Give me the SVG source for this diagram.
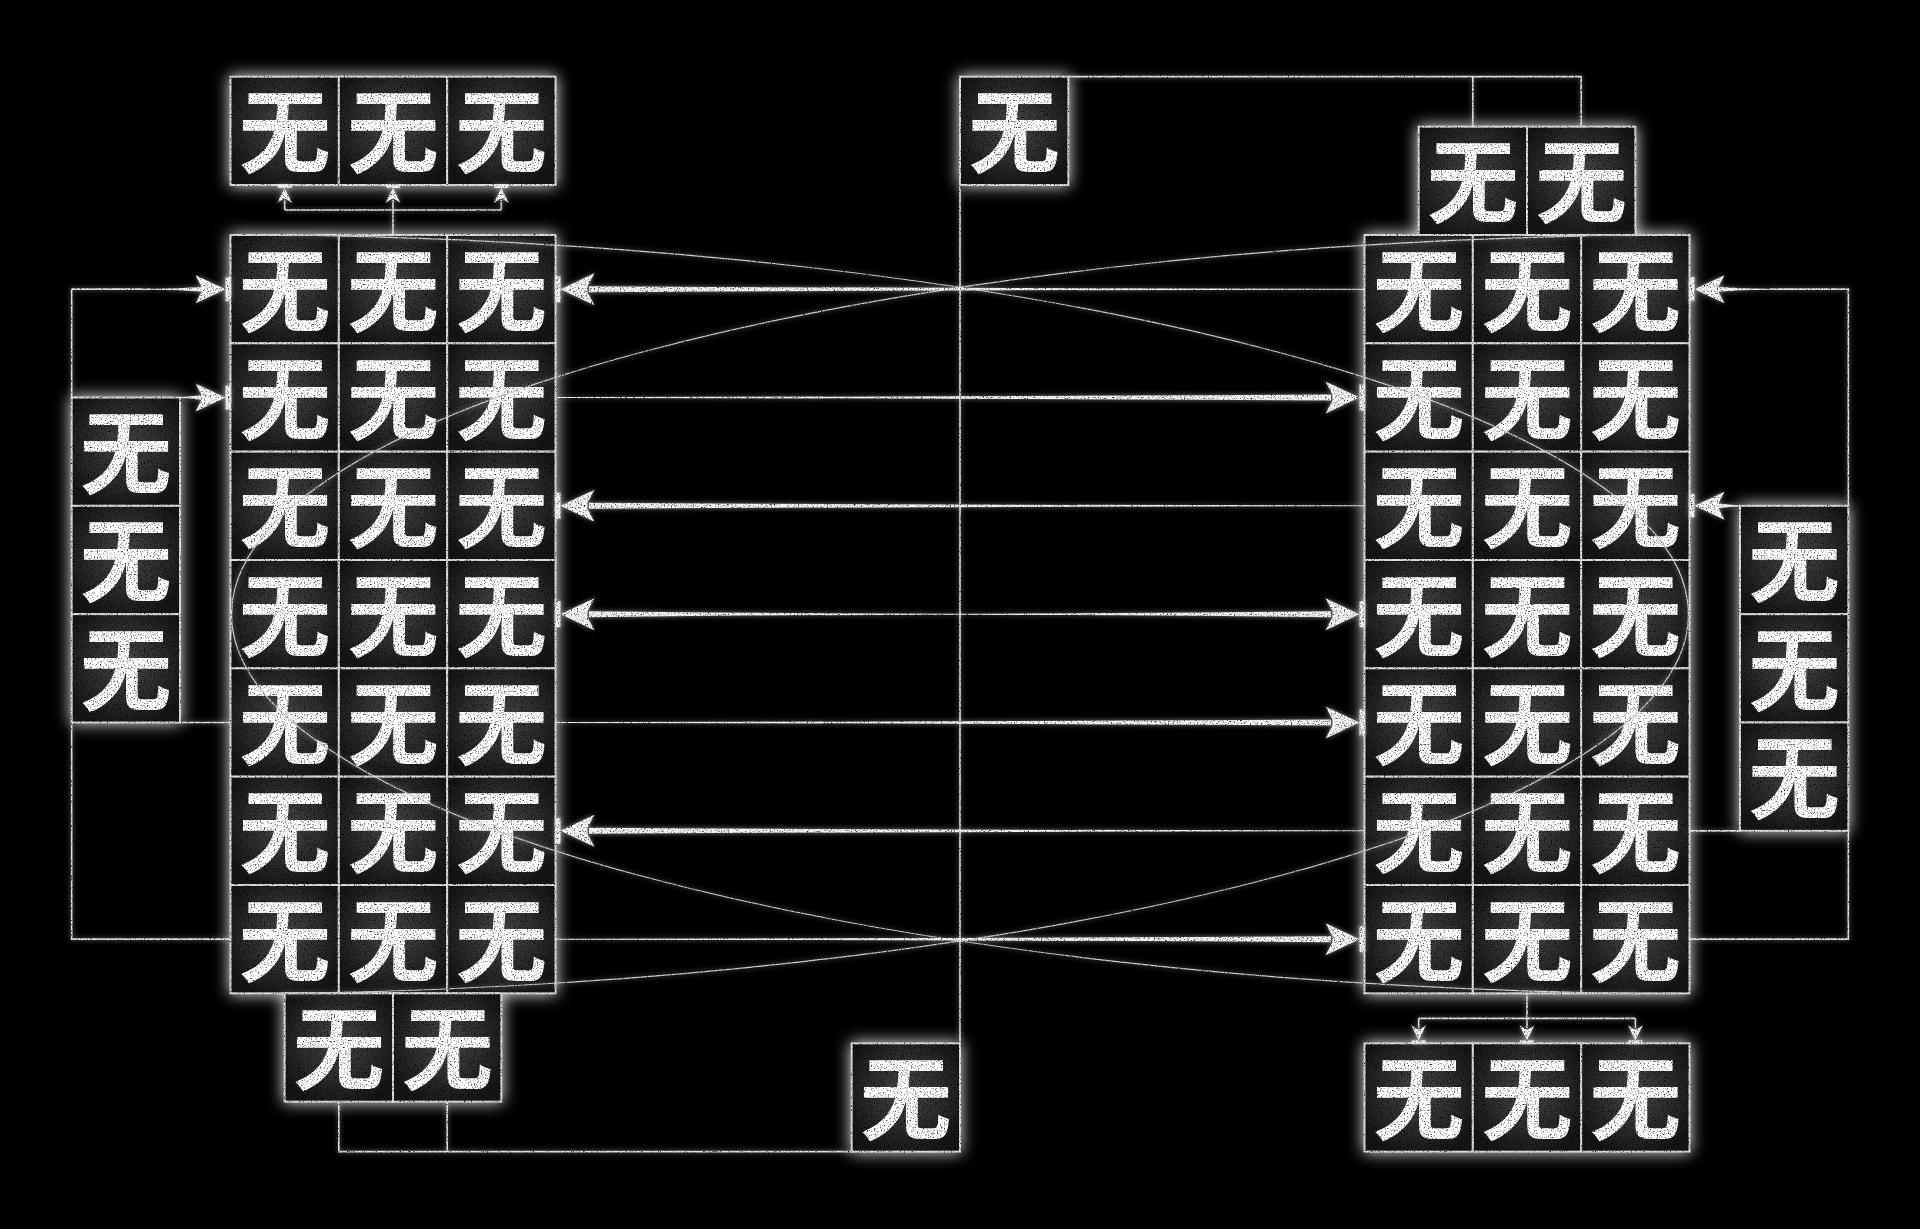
<svg xmlns="http://www.w3.org/2000/svg" width="1920" height="1229" viewBox="0 0 1920 1229">
<defs>
<style>
.c{fill:url(#cg);stroke:#dcdcdc;stroke-width:2}
.t{fill:#ffffff;font-family:"Noto Sans CJK SC","Noto Sans CJK JP",sans-serif;font-weight:700;font-size:92px;text-anchor:middle;dominant-baseline:central}
.ln{fill:none;stroke:#e4e4e4;stroke-width:1.6}
.arc{fill:none;stroke:#d2d2d2;stroke-width:1.2}
.sh{fill:#f2f2f2}
.hd{fill:#f6f6f6}
.bar{fill:#f0f0f0}
</style>
<radialGradient id="cg" cx="50%" cy="45%" r="60%">
<stop offset="0" stop-color="#474747"/>
<stop offset="0.6" stop-color="#2a2a2a"/>
<stop offset="1" stop-color="#151515"/>
</radialGradient>
<filter id="nodefx" x="-5%" y="-5%" width="110%" height="110%" color-interpolation-filters="sRGB">
<feGaussianBlur in="SourceAlpha" stdDeviation="8" result="b"/>
<feFlood flood-color="#ffffff" flood-opacity="0.9"/>
<feComposite in2="b" operator="in" result="glow"/>
<feTurbulence type="fractalNoise" baseFrequency="0.7" numOctaves="2" seed="4" result="n"/>
<feColorMatrix in="n" type="matrix" values="3 0 0 0 -0.38  3 0 0 0 -0.38  3 0 0 0 -0.38  0 0 0 0 1" result="g"/>
<feComposite in="g" in2="SourceGraphic" operator="arithmetic" k1="1" result="tex"/>
<feMerge><feMergeNode in="glow"/><feMergeNode in="tex"/></feMerge>
</filter>
<filter id="linefx" x="-5%" y="-5%" width="110%" height="110%" color-interpolation-filters="sRGB">
<feGaussianBlur in="SourceAlpha" stdDeviation="2.5" result="b"/>
<feFlood flood-color="#ffffff" flood-opacity="0.5"/>
<feComposite in2="b" operator="in" result="glow"/>
<feTurbulence type="fractalNoise" baseFrequency="0.7" numOctaves="2" seed="9" result="n"/>
<feColorMatrix in="n" type="matrix" values="3 0 0 0 -0.4  3 0 0 0 -0.4  3 0 0 0 -0.4  0 0 0 0 1" result="g"/>
<feComposite in="g" in2="SourceGraphic" operator="arithmetic" k1="1" result="tex"/>
<feMerge><feMergeNode in="glow"/><feMergeNode in="tex"/></feMerge>
</filter>
</defs>
<rect width="1920" height="1229" fill="#000"/>

<g id="nodes" filter="url(#nodefx)">
<!-- top-left box -->
<g id="tl0" transform="translate(230.5 76.67)"><rect class="c" width="108.33" height="108.33"/><text class="t" x="54.17" y="49">无</text></g>
<g id="tl1" transform="translate(338.83 76.67)"><rect class="c" width="108.33" height="108.33"/><text class="t" x="54.17" y="49">无</text></g>
<g id="tl2" transform="translate(447.17 76.67)"><rect class="c" width="108.33" height="108.33"/><text class="t" x="54.17" y="49">无</text></g>
<!-- left grid -->
<g id="L00" transform="translate(230.5 235)"><rect class="c" width="108.33" height="108.33"/><text class="t" x="54.17" y="49">无</text></g>
<g id="L01" transform="translate(338.83 235)"><rect class="c" width="108.33" height="108.33"/><text class="t" x="54.17" y="49">无</text></g>
<g id="L02" transform="translate(447.17 235)"><rect class="c" width="108.33" height="108.33"/><text class="t" x="54.17" y="49">无</text></g>
<g id="L10" transform="translate(230.5 343.33)"><rect class="c" width="108.33" height="108.33"/><text class="t" x="54.17" y="49">无</text></g>
<g id="L11" transform="translate(338.83 343.33)"><rect class="c" width="108.33" height="108.33"/><text class="t" x="54.17" y="49">无</text></g>
<g id="L12" transform="translate(447.17 343.33)"><rect class="c" width="108.33" height="108.33"/><text class="t" x="54.17" y="49">无</text></g>
<g id="L20" transform="translate(230.5 451.67)"><rect class="c" width="108.33" height="108.33"/><text class="t" x="54.17" y="49">无</text></g>
<g id="L21" transform="translate(338.83 451.67)"><rect class="c" width="108.33" height="108.33"/><text class="t" x="54.17" y="49">无</text></g>
<g id="L22" transform="translate(447.17 451.67)"><rect class="c" width="108.33" height="108.33"/><text class="t" x="54.17" y="49">无</text></g>
<g id="L30" transform="translate(230.5 560)"><rect class="c" width="108.33" height="108.33"/><text class="t" x="54.17" y="49">无</text></g>
<g id="L31" transform="translate(338.83 560)"><rect class="c" width="108.33" height="108.33"/><text class="t" x="54.17" y="49">无</text></g>
<g id="L32" transform="translate(447.17 560)"><rect class="c" width="108.33" height="108.33"/><text class="t" x="54.17" y="49">无</text></g>
<g id="L40" transform="translate(230.5 668.33)"><rect class="c" width="108.33" height="108.33"/><text class="t" x="54.17" y="49">无</text></g>
<g id="L41" transform="translate(338.83 668.33)"><rect class="c" width="108.33" height="108.33"/><text class="t" x="54.17" y="49">无</text></g>
<g id="L42" transform="translate(447.17 668.33)"><rect class="c" width="108.33" height="108.33"/><text class="t" x="54.17" y="49">无</text></g>
<g id="L50" transform="translate(230.5 776.67)"><rect class="c" width="108.33" height="108.33"/><text class="t" x="54.17" y="49">无</text></g>
<g id="L51" transform="translate(338.83 776.67)"><rect class="c" width="108.33" height="108.33"/><text class="t" x="54.17" y="49">无</text></g>
<g id="L52" transform="translate(447.17 776.67)"><rect class="c" width="108.33" height="108.33"/><text class="t" x="54.17" y="49">无</text></g>
<g id="L60" transform="translate(230.5 885)"><rect class="c" width="108.33" height="108.33"/><text class="t" x="54.17" y="49">无</text></g>
<g id="L61" transform="translate(338.83 885)"><rect class="c" width="108.33" height="108.33"/><text class="t" x="54.17" y="49">无</text></g>
<g id="L62" transform="translate(447.17 885)"><rect class="c" width="108.33" height="108.33"/><text class="t" x="54.17" y="49">无</text></g>
<!-- left column -->
<g id="lc0" transform="translate(71.67 397.5)"><rect class="c" width="108.33" height="108.33"/><text class="t" x="54.17" y="49">无</text></g>
<g id="lc1" transform="translate(71.67 505.83)"><rect class="c" width="108.33" height="108.33"/><text class="t" x="54.17" y="49">无</text></g>
<g id="lc2" transform="translate(71.67 614.17)"><rect class="c" width="108.33" height="108.33"/><text class="t" x="54.17" y="49">无</text></g>
<!-- below left -->
<g id="lb0" transform="translate(284.67 993.33)"><rect class="c" width="108.33" height="108.33"/><text class="t" x="54.17" y="49">无</text></g>
<g id="lb1" transform="translate(393 993.33)"><rect class="c" width="108.33" height="108.33"/><text class="t" x="54.17" y="49">无</text></g>
<!-- singles -->
<g id="ts" transform="translate(960 76.67)"><rect class="c" width="108.33" height="108.33"/><text class="t" x="54.17" y="49">无</text></g>
<g id="bs" transform="translate(851.67 1043.33)"><rect class="c" width="108.33" height="108.33"/><text class="t" x="54.17" y="49">无</text></g>
<!-- right top -->
<g id="rt0" transform="translate(1418.67 126.67)"><rect class="c" width="108.33" height="108.33"/><text class="t" x="54.17" y="49">无</text></g>
<g id="rt1" transform="translate(1527 126.67)"><rect class="c" width="108.33" height="108.33"/><text class="t" x="54.17" y="49">无</text></g>
<!-- right grid -->
<g id="R00" transform="translate(1364.5 235)"><rect class="c" width="108.33" height="108.33"/><text class="t" x="54.17" y="49">无</text></g>
<g id="R01" transform="translate(1472.83 235)"><rect class="c" width="108.33" height="108.33"/><text class="t" x="54.17" y="49">无</text></g>
<g id="R02" transform="translate(1581.17 235)"><rect class="c" width="108.33" height="108.33"/><text class="t" x="54.17" y="49">无</text></g>
<g id="R10" transform="translate(1364.5 343.33)"><rect class="c" width="108.33" height="108.33"/><text class="t" x="54.17" y="49">无</text></g>
<g id="R11" transform="translate(1472.83 343.33)"><rect class="c" width="108.33" height="108.33"/><text class="t" x="54.17" y="49">无</text></g>
<g id="R12" transform="translate(1581.17 343.33)"><rect class="c" width="108.33" height="108.33"/><text class="t" x="54.17" y="49">无</text></g>
<g id="R20" transform="translate(1364.5 451.67)"><rect class="c" width="108.33" height="108.33"/><text class="t" x="54.17" y="49">无</text></g>
<g id="R21" transform="translate(1472.83 451.67)"><rect class="c" width="108.33" height="108.33"/><text class="t" x="54.17" y="49">无</text></g>
<g id="R22" transform="translate(1581.17 451.67)"><rect class="c" width="108.33" height="108.33"/><text class="t" x="54.17" y="49">无</text></g>
<g id="R30" transform="translate(1364.5 560)"><rect class="c" width="108.33" height="108.33"/><text class="t" x="54.17" y="49">无</text></g>
<g id="R31" transform="translate(1472.83 560)"><rect class="c" width="108.33" height="108.33"/><text class="t" x="54.17" y="49">无</text></g>
<g id="R32" transform="translate(1581.17 560)"><rect class="c" width="108.33" height="108.33"/><text class="t" x="54.17" y="49">无</text></g>
<g id="R40" transform="translate(1364.5 668.33)"><rect class="c" width="108.33" height="108.33"/><text class="t" x="54.17" y="49">无</text></g>
<g id="R41" transform="translate(1472.83 668.33)"><rect class="c" width="108.33" height="108.33"/><text class="t" x="54.17" y="49">无</text></g>
<g id="R42" transform="translate(1581.17 668.33)"><rect class="c" width="108.33" height="108.33"/><text class="t" x="54.17" y="49">无</text></g>
<g id="R50" transform="translate(1364.5 776.67)"><rect class="c" width="108.33" height="108.33"/><text class="t" x="54.17" y="49">无</text></g>
<g id="R51" transform="translate(1472.83 776.67)"><rect class="c" width="108.33" height="108.33"/><text class="t" x="54.17" y="49">无</text></g>
<g id="R52" transform="translate(1581.17 776.67)"><rect class="c" width="108.33" height="108.33"/><text class="t" x="54.17" y="49">无</text></g>
<g id="R60" transform="translate(1364.5 885)"><rect class="c" width="108.33" height="108.33"/><text class="t" x="54.17" y="49">无</text></g>
<g id="R61" transform="translate(1472.83 885)"><rect class="c" width="108.33" height="108.33"/><text class="t" x="54.17" y="49">无</text></g>
<g id="R62" transform="translate(1581.17 885)"><rect class="c" width="108.33" height="108.33"/><text class="t" x="54.17" y="49">无</text></g>
<!-- right column -->
<g id="rc0" transform="translate(1740 505.83)"><rect class="c" width="108.33" height="108.33"/><text class="t" x="54.17" y="49">无</text></g>
<g id="rc1" transform="translate(1740 614.17)"><rect class="c" width="108.33" height="108.33"/><text class="t" x="54.17" y="49">无</text></g>
<g id="rc2" transform="translate(1740 722.5)"><rect class="c" width="108.33" height="108.33"/><text class="t" x="54.17" y="49">无</text></g>
<!-- bottom right box -->
<g id="br0" transform="translate(1364.5 1043.33)"><rect class="c" width="108.33" height="108.33"/><text class="t" x="54.17" y="49">无</text></g>
<g id="br1" transform="translate(1472.83 1043.33)"><rect class="c" width="108.33" height="108.33"/><text class="t" x="54.17" y="49">无</text></g>
<g id="br2" transform="translate(1581.17 1043.33)"><rect class="c" width="108.33" height="108.33"/><text class="t" x="54.17" y="49">无</text></g>
</g>

<g id="connectors" filter="url(#linefx)">
<!-- elliptical arcs -->
<path class="arc" d="M280 234.72 A1488.5 380 0 0 1 280 993.62"/>
<path class="arc" d="M1640 234.72 A1488.5 380 0 0 0 1640 993.62"/>
<!-- thin routed lines -->
<path class="ln" d="M393 235 V210 M284.67 210 H501.33 M284.67 210 V200 M393 210 V200 M501.33 210 V200"/>
<path class="ln" d="M1527 993.33 V1018.33 M1418.67 1018.33 H1635.33 M1418.67 1018.33 V1028 M1527 1018.33 V1028 M1635.33 1018.33 V1028"/>
<path class="ln" d="M1068.33 76.67 H1581.17 V126.67 M1472.83 76.67 V126.67"/>
<path class="ln" d="M960 185 V1043.33"/>
<path class="ln" d="M851.67 1151.67 H338.83 V1101.67 M447.17 1151.67 V1101.67"/>
<path class="ln" d="M71.67 397.5 V289.17 H150"/>
<path class="ln" d="M180 722.5 H230.5"/>
<path class="ln" d="M71.67 722.5 V939.17 H230.5"/>
<path class="ln" d="M1848.33 505.83 V289.17 H1770"/>
<path class="ln" d="M1740 830.83 H1689.5"/>
<path class="ln" d="M1848.33 830.83 V939.17 H1689.5"/>
<!-- small arrows up (top-left) -->
<rect class="bar" x="277.67" y="185" width="14" height="3"/>
<rect class="bar" x="386" y="185" width="14" height="3"/>
<rect class="bar" x="494.33" y="185" width="14" height="3"/>
<polygon class="hd" points="284.67,188 292.17,203 286.17,199 283.17,199 277.17,203"/>
<polygon class="hd" points="393,188 400.5,203 394.5,199 391.5,199 385.5,203"/>
<polygon class="hd" points="501.33,188 508.83,203 502.83,199 499.83,199 493.83,203"/>
<!-- small arrows down (bottom-right) -->
<rect class="bar" x="1411.67" y="1040.33" width="14" height="3"/>
<rect class="bar" x="1520" y="1040.33" width="14" height="3"/>
<rect class="bar" x="1628.33" y="1040.33" width="14" height="3"/>
<polygon class="hd" points="1418.67,1040.33 1426.17,1025.33 1420.17,1029.33 1417.17,1029.33 1411.17,1025.33"/>
<polygon class="hd" points="1527,1040.33 1534.5,1025.33 1528.5,1029.33 1525.5,1029.33 1519.5,1025.33"/>
<polygon class="hd" points="1635.33,1040.33 1642.83,1025.33 1636.83,1029.33 1633.83,1029.33 1627.83,1025.33"/>
<!-- side arrows left -->
<path class="sh" d="M150 288.67 Q180 288.57 203 286.67 L203 291.67 Q180 289.77 150 289.67 Z"/>
<polygon class="hd" points="225.5,289.17 195.5,275.17 201.5,286.67 201.5,291.67 195.5,303.17"/>
<rect class="bar" x="225.5" y="277.17" width="5" height="24"/>
<path class="sh" d="M180 396.9 Q190 396.7 203 395 L203 400 Q190 398.3 180 398.1 Z"/>
<polygon class="hd" points="225.5,397.5 195.5,383.5 201.5,395 201.5,400 195.5,411.5"/>
<rect class="bar" x="225.5" y="385.5" width="5" height="24"/>
<!-- side arrows right -->
<path class="sh" d="M1770 288.67 Q1740 288.57 1717 286.67 L1717 291.67 Q1740 289.77 1770 289.67 Z"/>
<polygon class="hd" points="1694.5,289.17 1724.5,275.17 1718.5,286.67 1718.5,291.67 1724.5,303.17"/>
<rect class="bar" x="1689.5" y="277.17" width="5" height="24"/>
<path class="sh" d="M1740 505.23 Q1730 505.03 1717 503.33 L1717 508.33 Q1730 506.63 1740 506.43 Z"/>
<polygon class="hd" points="1694.5,505.83 1724.5,491.83 1718.5,503.33 1718.5,508.33 1724.5,519.83"/>
<rect class="bar" x="1689.5" y="493.83" width="5" height="24"/>
<!-- long arrows -->
<path class="sh" d="M1364.5 288.67 Q975 288.47 589 286.17 L589 292.17 Q975 289.87 1364.5 289.67 Z"/>
<polygon class="hd" points="560.5,289.17 594.5,273.17 587.5,286.17 587.5,292.17 594.5,305.17"/>
<rect class="bar" x="555.5" y="276.17" width="5" height="26"/>

<path class="sh" d="M555.5 397 Q945 396.8 1331 394.5 L1331 400.5 Q945 398.2 555.5 398 Z"/>
<polygon class="hd" points="1359.5,397.5 1325.5,381.5 1332.5,394.5 1332.5,400.5 1325.5,413.5"/>
<rect class="bar" x="1359.5" y="384.5" width="5" height="26"/>

<path class="sh" d="M1364.5 505.33 Q975 505.13 589 502.83 L589 508.83 Q975 506.53 1364.5 506.33 Z"/>
<polygon class="hd" points="560.5,505.83 594.5,489.83 587.5,502.83 587.5,508.83 594.5,521.83"/>
<rect class="bar" x="555.5" y="492.83" width="5" height="26"/>

<path class="sh" d="M960 613.67 Q775 613.47 589 611.17 L589 617.17 Q775 614.87 960 614.67 Z"/>
<path class="sh" d="M960 613.67 Q1145 613.47 1331 611.17 L1331 617.17 Q1145 614.87 960 614.67 Z"/>
<polygon class="hd" points="560.5,614.17 594.5,598.17 587.5,611.17 587.5,617.17 594.5,630.17"/>
<polygon class="hd" points="1359.5,614.17 1325.5,598.17 1332.5,611.17 1332.5,617.17 1325.5,630.17"/>
<rect class="bar" x="555.5" y="601.17" width="5" height="26"/>
<rect class="bar" x="1359.5" y="601.17" width="5" height="26"/>

<path class="sh" d="M555.5 722 Q945 721.8 1331 719.5 L1331 725.5 Q945 723.2 555.5 723 Z"/>
<polygon class="hd" points="1359.5,722.5 1325.5,706.5 1332.5,719.5 1332.5,725.5 1325.5,738.5"/>
<rect class="bar" x="1359.5" y="709.5" width="5" height="26"/>

<path class="sh" d="M1364.5 830.33 Q975 830.13 589 827.83 L589 833.83 Q975 831.53 1364.5 831.33 Z"/>
<polygon class="hd" points="560.5,830.83 594.5,814.83 587.5,827.83 587.5,833.83 594.5,846.83"/>
<rect class="bar" x="555.5" y="817.83" width="5" height="26"/>

<path class="sh" d="M555.5 938.67 Q945 938.47 1331 936.17 L1331 942.17 Q945 939.87 555.5 939.67 Z"/>
<polygon class="hd" points="1359.5,939.17 1325.5,923.17 1332.5,936.17 1332.5,942.17 1325.5,955.17"/>
<rect class="bar" x="1359.5" y="926.17" width="5" height="26"/>
</g>
</svg>
